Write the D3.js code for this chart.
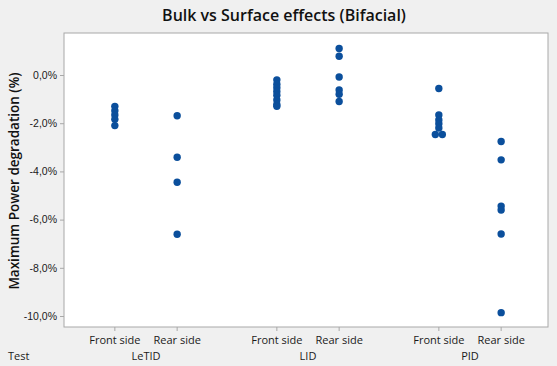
<!DOCTYPE html>
<html>
<head>
<meta charset="utf-8">
<script src="https://cdn.jsdelivr.net/npm/d3@7"></script>
<style>
  body { margin: 0; background: #f0f0f0; }
  svg { display: block; font-family: "Open Sans", "Noto Sans", sans-serif; }
</style>
</head>
<body>
<div id="chart"></div>
<script>
// groups and sides
const tests = ["LeTID", "LID", "PID"];
const sides = ["Front side", "Rear side"];
const yTicks = [0, -2, -4, -6, -8, -10];

// Maximum power degradation (%)
const letidFront = [-1.3, -1.48, -1.66, -1.84, -2.1];
const letidRear = [-1.69, -3.41, -4.45, -6.61];
const lidFront = [-0.2, -0.38, -0.53, -0.68, -0.84, -1.04, -1.22, -1.3];
const lidRear = [1.1, 0.78, -0.08, -0.62, -0.8, -1.1];
const pidFront = [-0.56, -1.66, -1.87, -2.02, -2.2, -2.47, -2.47];
const pidRear = [-2.76, -3.52, -5.44, -5.6, -6.6, -9.86];

const series = [
  { test: "LeTID", side: "Front side", values: letidFront },
  { test: "LeTID", side: "Rear side", values: letidRear },
  { test: "LID", side: "Front side", values: lidFront },
  { test: "LID", side: "Rear side", values: lidRear },
  { test: "PID", side: "Front side", values: pidFront },
  { test: "PID", side: "Rear side", values: pidRear }
];

const width = 557, height = 366;
const plot = { left: 64, right: 548, top: 33, bottom: 327 };

const svg = d3.select("#chart").append("svg")
  .attr("width", width)
  .attr("height", height);

svg.append("rect")
  .attr("width", width).attr("height", height)
  .attr("fill", "#f0f0f0");

svg.append("rect")
  .attr("x", plot.left).attr("y", plot.top)
  .attr("width", plot.right - plot.left)
  .attr("height", plot.bottom - plot.top)
  .attr("fill", "#ffffff")
  .attr("stroke", "#a8a8a8")
  .attr("stroke-width", 1);

const xGroup = d3.scaleBand()
  .domain(tests)
  .range([plot.left + 1, plot.right + 3])
  .paddingInner(0)
  .paddingOuter(0);

const xSide = d3.scalePoint()
  .domain(sides)
  .range([0, xGroup.bandwidth()])
  .padding(0.8);

const y = d3.scaleLinear()
  .domain([-10.456, 1.743])
  .range([plot.bottom, plot.top]);

// y axis
const yAxis = svg.append("g")
  .attr("transform", `translate(${plot.left},0)`)
  .call(d3.axisLeft(y).tickValues(yTicks).tickSize(4).tickPadding(3)
    .tickFormat(d => d3.format(".1f")(d).replace(".", ",").replace("−", "-") + "%"));
yAxis.select(".domain").remove();
yAxis.selectAll("line").attr("stroke", "#a8a8a8");
yAxis.selectAll("text")
  .attr("fill", "#1a1a1a")
  .style("font-size", "10.5px");

// x ticks under frame
const cats = series.map(s => s);
svg.append("g").selectAll("line")
  .data(cats)
  .enter().append("line")
  .attr("x1", d => xGroup(d.test) + xSide(d.side))
  .attr("x2", d => xGroup(d.test) + xSide(d.side))
  .attr("y1", plot.bottom)
  .attr("y2", plot.bottom + 4)
  .attr("stroke", "#a8a8a8");

svg.append("g").selectAll("text")
  .data(cats)
  .enter().append("text")
  .attr("x", d => xGroup(d.test) + xSide(d.side))
  .attr("y", 344)
  .attr("text-anchor", "middle")
  .attr("fill", "#1a1a1a")
  .style("font-size", "11px")
  .text(d => d.side);

svg.append("g").selectAll("text")
  .data(tests)
  .enter().append("text")
  .attr("x", d => xGroup(d) + xGroup.bandwidth() / 2)
  .attr("y", 360)
  .attr("text-anchor", "middle")
  .attr("fill", "#1a1a1a")
  .style("font-size", "11px")
  .text(d => d);

svg.append("text")
  .attr("x", 8)
  .attr("y", 360)
  .attr("fill", "#1a1a1a")
  .style("font-size", "11px")
  .text("Test");

// points, ties placed side by side
const points = [];
series.forEach(s => {
  const counts = d3.rollup(s.values, v => v.length, v => v);
  const seen = new Map();
  s.values.forEach(v => {
    const n = counts.get(v);
    const i = seen.get(v) || 0;
    seen.set(v, i + 1);
    points.push({ test: s.test, side: s.side, value: v, dx: (i - (n - 1) / 2) * 7 });
  });
});

svg.append("g").selectAll("circle")
  .data(points)
  .enter().append("circle")
  .attr("cx", d => xGroup(d.test) + xSide(d.side) + d.dx)
  .attr("cy", d => y(d.value))
  .attr("r", 3.7)
  .attr("fill", "#0b4f9c");

// titles
svg.append("text")
  .attr("x", 284)
  .attr("y", 21)
  .attr("text-anchor", "middle")
  .attr("fill", "#111")
  .style("font-size", "16px")
  .style("font-weight", 600)
  .text("Bulk vs Surface effects (Bifacial)");

svg.append("text")
  .attr("transform", `translate(19,${(plot.top + plot.bottom) / 2 + 1}) rotate(-90)`)
  .attr("text-anchor", "middle")
  .attr("fill", "#111")
  .style("font-size", "13.5px")
  .style("font-weight", 600)
  .text("Maximum Power degradation (%)");
</script>
</body>
</html>
